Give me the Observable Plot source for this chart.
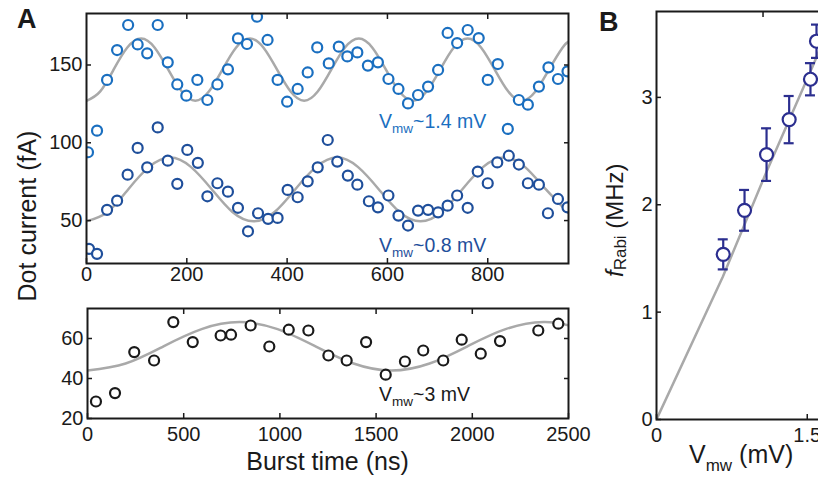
<!DOCTYPE html>
<html>
<head>
<meta charset="utf-8">
<script src="https://cdn.jsdelivr.net/npm/d3@7"></script>
<script src="https://cdn.jsdelivr.net/npm/@observablehq/plot@0.6"></script>
<style>
  html, body { margin: 0; padding: 0; background: #fff; overflow: hidden; }
  #wrap { position: relative; width: 818px; height: 477px; overflow: hidden; background: #fff; }
  #wrap > svg { position: absolute; }
  #overlay { position: absolute; left: 0; top: 0; pointer-events: none; font-family: 'Liberation Sans', Arial, sans-serif; fill: #1a1a1a; }
</style>
</head>
<body>
<div id="wrap"></div>
<script>
// ---------- Panel A (top): Vmw ~ 1.4 mV ----------
const burst14 = [3,21,41,61,83,102,121,142,162,181,199,221,241,261,282,302,320,340,361,381,400,421,441,460,483,503,520,540,561,581,602,622,641,661,681,701,720,739,760,782,800,820,840,862,880,902,921,940,959];
const current14 = [93.9,107.8,140.4,159.6,175.7,163.2,157.5,175.7,151.7,137.5,130.3,140.4,127.5,137.5,147.2,167.1,163.5,181,166.1,140.4,126.4,134.6,145.2,161.3,151,161.8,155.5,158.1,149.6,151.7,141,134.6,125.3,130.7,136.1,146.8,170.6,164.1,172.5,167.3,140.4,150.6,108.9,127.5,124.5,136.1,148.5,141,145.9];
// ---------- Panel A (top): Vmw ~ 0.8 mV ----------
const burst08 = [5,21,41,61,82,102,121,142,162,181,201,222,241,261,282,302,322,342,362,381,401,421,441,461,481,500,521,540,563,581,602,622,641,661,681,701,720,739,760,780,800,819,842,862,880,902,920,940,959];
const current08 = [31.8,28.6,56.9,62.8,79.5,96.7,84.2,109.9,88.5,73.6,95.4,87.1,65.6,74,68.6,58.2,43.1,54.7,51.1,51.7,69.7,65,75.2,84.2,101.8,87.9,78.9,73.1,62.4,58.5,66.1,53.2,46.8,56.4,56.9,55.3,59.6,66.1,58.2,81.5,74,87.4,91.7,86,74,73.1,54.7,63.9,58.5];
// fit curves
const fit14X = [0,27,54,81,109,136,163,190,217,244,271,298,326,353,380,407,434,461,488,515,543,570,597,624,651,678,705,732,760,787,814,841,868,895,922,949,961];
const fit14Y = [127,132.9,147,161.1,167,161.1,147,132.9,127,132.9,147,161.1,167,161.1,147,132.9,127,132.9,147,161.1,167,161.1,147,132.9,127,132.9,147,161.1,167,161.1,147,132.9,127,132.9,147,161.1,165];
const fit08X = [0,42,83,125,167,208,250,291,333,375,416,458,500,541,583,624,666,708,749,791,833,874,916,961];
const fit08Y = [49.5,55.5,70,84.5,90.5,84.5,70,55.5,49.5,55.5,70,84.5,90.5,84.5,70,55.5,49.5,55.5,70,84.5,90.5,84.5,70,55];
const ticksA1X = [0,200,400,600,800];
const ticksA1Y = [50,100,150];

// ---------- Panel A (bottom): Vmw ~ 3 mV ----------
const burst3 = [44,143,243,346,446,547,692,746,848,945,1046,1148,1252,1347,1448,1550,1650,1745,1849,1945,2044,2144,2343,2447];
const current3 = [28.5,32.7,53.2,49,68.2,58.2,61.5,61.9,66.5,56,64.4,64,51.5,49,58.2,41.9,48.5,54,49,59.4,52.4,58.7,64,67.4];
const fit3X = [0,198,395,593,790,988,1185,1383,1580,1778,1975,2173,2370,2500];
const fit3Y = [44,47.5,56.1,64.7,68.2,64.7,56.1,47.5,44,47.5,56.1,64.7,68.2,66.6];
const ticksA2X = [0,500,1000,1500,2000,2500];
const ticksA2Y = [20,40,60];

// ---------- Panel B ----------
const vmw = [0.664,0.876,1.095,1.320,1.532,1.592];
const fRabi = [1.538,1.948,2.467,2.793,3.169,3.523];
const fErr = [0.14,0.19,0.245,0.22,0.15,0.155];
const fitBX = [0,0.66,1.1,1.55,1.78];
const fitBY = [0,1.33,2.32,3.28,3.8];
const ticksBX = [0,1.5,3];
const ticksBTop = [1.06];
const ticksBY = [0,1,2,3];

const cLight = "#1a6fc0", cDark = "#1f4f9b", cNavy = "#2b2e8f", cGray = "#a9a9a9", cInk = "#1a1a1a";
const style = {fontFamily: "'Liberation Sans', Arial, sans-serif", fontSize: "20px", color: cInk, background: "none", overflow: "visible"};
const blank = () => "";
const plain = d => String(d);

function boxAxes(xt, yt, xTop, yRight, padX) {
  return [
    Plot.frame({stroke: cInk, strokeWidth: 2}),
    Plot.axisX({ticks: xt, tickSize: -5, tickPadding: padX, tickFormat: plain, label: null, strokeWidth: 1.5}),
    Plot.axisX({anchor: "top", ticks: xTop, tickSize: -5, tickFormat: blank, label: null, strokeWidth: 1.5}),
    Plot.axisY({ticks: yt, tickSize: -5, tickPadding: 9, tickFormat: plain, label: null, strokeWidth: 1.5}),
    Plot.axisY({anchor: "right", ticks: yRight, tickSize: -5, tickFormat: blank, label: null, strokeWidth: 1.5})
  ];
}

const wrap = document.getElementById("wrap");

const a1 = Plot.plot({
  width: 580, height: 295, marginLeft: 86, marginRight: 12, marginTop: 13, marginBottom: 32,
  style,
  x: {domain: [0, 961]}, y: {domain: [22.4, 183.1]},
  marks: [
    Plot.line(fit14X, {x: fit14X, y: fit14Y, curve: "natural", stroke: cGray, strokeWidth: 2.5, clip: true}),
    Plot.line(fit08X, {x: fit08X, y: fit08Y, curve: "natural", stroke: cGray, strokeWidth: 2.5, clip: true}),
    Plot.dot(burst08, {x: burst08, y: current08, r: 5, stroke: cDark, strokeWidth: 2.2, fill: "white", clip: true}),
    Plot.dot(burst14, {x: burst14, y: current14, r: 5, stroke: cLight, strokeWidth: 2.2, fill: "white", clip: true}),
    ...boxAxes(ticksA1X, ticksA1Y, ticksA1X.slice(1), ticksA1Y, 8)
  ]
});
a1.style.left = "0px"; a1.style.top = "0px";
wrap.appendChild(a1);

const a2 = Plot.plot({
  width: 580, height: 187, marginLeft: 87, marginRight: 12, marginTop: 18, marginBottom: 59,
  style,
  x: {domain: [0, 2500]}, y: {domain: [20, 75]},
  marks: [
    Plot.line(fit3X, {x: fit3X, y: fit3Y, curve: "natural", stroke: cGray, strokeWidth: 2.5, clip: true}),
    Plot.dot(burst3, {x: burst3, y: current3, r: 5, stroke: cInk, strokeWidth: 2.2, fill: "white", clip: true}),
    ...boxAxes(ticksA2X, ticksA2Y, ticksA2X.slice(1, -1), ticksA2Y.slice(1), 13)
  ]
});
a2.style.left = "0px"; a2.style.top = "290px";
wrap.appendChild(a2);

const lo = fRabi.map((f, i) => f - fErr[i]);
const hi = fRabi.map((f, i) => f + fErr[i]);
const b = Plot.plot({
  width: 400, height: 477, marginLeft: 66, marginRight: 32.5, marginTop: 11, marginBottom: 58,
  style,
  x: {domain: [0, 3]}, y: {domain: [0, 3.8]},
  marks: [
    Plot.line(fitBX, {x: fitBX, y: fitBY, stroke: cGray, strokeWidth: 2.5, clip: true}),
    Plot.ruleX(vmw, {x: vmw, y1: lo, y2: hi, stroke: cNavy, strokeWidth: 2.2}),
    Plot.ruleY(vmw, {x1: vmw, x2: vmw, y: hi, insetLeft: -5, insetRight: -5, stroke: cNavy, strokeWidth: 2.2}),
    Plot.ruleY(vmw, {x1: vmw, x2: vmw, y: lo, insetLeft: -5, insetRight: -5, stroke: cNavy, strokeWidth: 2.2}),
    Plot.dot(vmw, {x: vmw, y: fRabi, r: 6.5, stroke: cNavy, strokeWidth: 2.2, fill: "white"}),
    ...boxAxes(ticksBX, ticksBY, ticksBTop, ticksBY, 13)
  ]
});
b.style.left = "590px"; b.style.top = "0px";
wrap.appendChild(b);

// ---------- text labels ----------
const ns = "http://www.w3.org/2000/svg";
const ov = document.createElementNS(ns, "svg");
ov.setAttribute("id", "overlay");
ov.setAttribute("width", 818); ov.setAttribute("height", 477);
ov.innerHTML = `
  <text x="17" y="28" font-size="27" font-weight="bold">A</text>
  <text x="599" y="30.5" font-size="27" font-weight="bold">B</text>
  <text transform="translate(35.5,216) rotate(-90)" text-anchor="middle" font-size="25">Dot current (fA)</text>
  <text x="327.5" y="470" text-anchor="middle" font-size="25">Burst time (ns)</text>
  <text x="689" y="463" font-size="25">V<tspan font-size="17" dy="8">mw</tspan><tspan dy="-8"> (mV)</tspan></text>
  <text transform="translate(623,277) rotate(-90)" font-size="24"><tspan font-style="italic">f</tspan><tspan font-size="17" dy="3">Rabi</tspan><tspan dy="-3"> (MHz)</tspan></text>
  <text x="379" y="128.3" font-size="19.5" fill="${cLight}">V<tspan font-size="13.5" dy="5">mw</tspan><tspan dy="-5">~1.4 mV</tspan></text>
  <text x="379" y="251.7" font-size="19.5" fill="${cDark}">V<tspan font-size="13.5" dy="5">mw</tspan><tspan dy="-5">~0.8 mV</tspan></text>
  <text x="379" y="401" font-size="19.5" fill="${cInk}">V<tspan font-size="13.5" dy="5">mw</tspan><tspan dy="-5">~3 mV</tspan></text>
`;
wrap.appendChild(ov);
</script>
</body>
</html>
